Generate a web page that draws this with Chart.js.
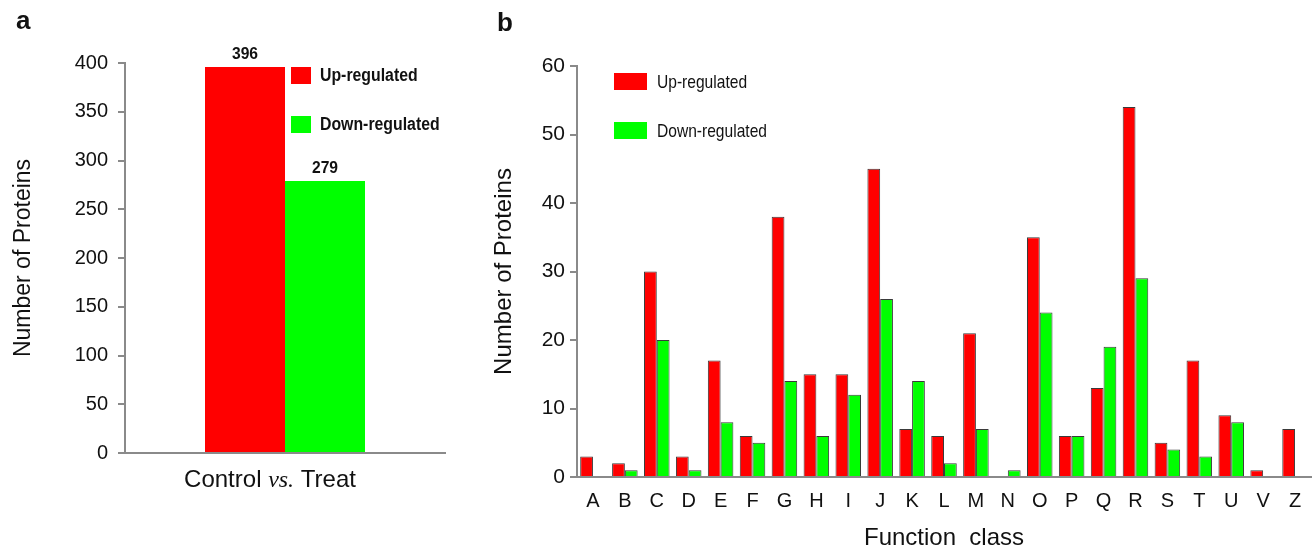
<!DOCTYPE html>
<html lang="en">
<head>
<meta charset="UTF-8">
<title>Differentially expressed proteins</title>
<script src="https://cdn.jsdelivr.net/npm/chart.js"></script>
<style>
  body { margin: 0; background: #fff; }
  #wrap { position: relative; width: 1314px; height: 550px; font-family: 'Liberation Sans', Arial, sans-serif; color: #111; }
  .box { position: absolute; top: 0; height: 550px; }
  #boxA { left: 0; width: 460px; }
  #boxB { left: 460px; width: 854px; }
  .panel { position: absolute; font-weight: bold; font-size: 26px; line-height: 1.15; }
</style>
</head>
<body>
<div id="wrap">
  <div class="box" id="boxA"><canvas id="chartA"></canvas></div>
  <div class="box" id="boxB"><canvas id="chartB"></canvas></div>
  <div class="panel" style="left:16px; top:6px;">a</div>
  <div class="panel" style="left:497px; top:8px;">b</div>
</div>
<script>
// panel a: totals
const comparison = ['Control vs. Treat'];
const upTotal = [396];
const downTotal = [279];

// panel b: function classes
const classes = ['A', 'B', 'C', 'D', 'E', 'F', 'G', 'H', 'I', 'J', 'K', 'L',
                 'M', 'N', 'O', 'P', 'Q', 'R', 'S', 'T', 'U', 'V', 'Z'];
const upByClass = [3, 2, 30, 3, 17, 6, 38, 15, 15, 45, 7, 6,
                   21, 0, 35, 6, 13, 54, 5, 17, 9, 1, 7];
const downByClass = [0, 1, 20, 1, 8, 5, 14, 6, 12, 26, 14, 2,
                     7, 1, 24, 6, 19, 29, 4, 3, 8, 0, 0];

const RED = '#ff0000';
const GREEN = '#00ff00';
const AXIS = '#8a8a8a';
const TEXT = '#111';

// text squeezed horizontally (the figure uses a narrow face)
function narrowText(ctx, text, x, y, sx) {
  ctx.save();
  ctx.translate(x, y);
  ctx.scale(sx, 1);
  ctx.fillText(text, 0, 0);
  ctx.restore();
}

// legend drawn inside the plot area
const boxLegend = {
  id: 'boxLegend',
  afterDraw(chart, args, opts) {
    const ctx = chart.ctx;
    ctx.save();
    chart.data.datasets.forEach((ds, i) => {
      const y = opts.y + i * opts.gap;
      ctx.fillStyle = ds.backgroundColor;
      ctx.fillRect(opts.x, y, opts.boxW, opts.boxH);
      ctx.fillStyle = TEXT;
      ctx.font = opts.font;
      ctx.textBaseline = 'middle';
      narrowText(ctx, ds.label, opts.x + opts.boxW + opts.textGap, y + opts.boxH / 2 + 1, opts.squeeze);
    });
    ctx.restore();
  }
};

// value above each bar + x label with italic "vs."
const panelAText = {
  id: 'panelAText',
  afterDatasetsDraw(chart, args, opts) {
    const ctx = chart.ctx;
    ctx.save();
    ctx.fillStyle = TEXT;
    ctx.font = opts.valueFont;
    ctx.textAlign = 'center';
    ctx.textBaseline = 'alphabetic';
    chart.data.datasets.forEach((ds, i) => {
      chart.getDatasetMeta(i).data.forEach((bar, j) => {
        narrowText(ctx, String(ds.data[j]), bar.x, bar.y - 8, opts.squeeze);
      });
    });

    // "Control vs. Treat"
    const parts = chart.data.labels[0].split('vs.');
    const plain = opts.labelFont;
    const ital = opts.italicFont;
    ctx.textAlign = 'left';
    ctx.font = plain;
    const w1 = ctx.measureText(parts[0]).width;
    const w3 = ctx.measureText(parts[1]).width;
    ctx.font = ital;
    const w2 = ctx.measureText('vs.').width;
    const xs = chart.scales.x;
    let x = (xs.left + xs.right) / 2 + opts.shift - (w1 + w2 + w3) / 2;
    const y = opts.labelY;
    ctx.font = plain; ctx.fillText(parts[0], x, y); x += w1;
    ctx.font = ital;  ctx.fillText('vs.', x, y); x += w2;
    ctx.font = plain; ctx.fillText(parts[1], x, y);
    ctx.restore();
  }
};

Chart.defaults.font.family = "'Liberation Sans', Arial, sans-serif";
Chart.defaults.color = TEXT;

new Chart(document.getElementById('chartA'), {
  type: 'bar',
  data: {
    labels: comparison,
    datasets: [
      { label: 'Up-regulated', data: upTotal, backgroundColor: RED },
      { label: 'Down-regulated', data: downTotal, backgroundColor: GREEN }
    ]
  },
  options: {
    responsive: true,
    maintainAspectRatio: false,
    animation: false,
    layout: { padding: { left: 10, top: 63, right: 15, bottom: 0 } },
    datasets: { bar: { categoryPercentage: 0.5, barPercentage: 1 } },
    plugins: {
      legend: { display: false },
      tooltip: { enabled: false },
      boxLegend: { x: 291, y: 67, gap: 49, boxW: 20, boxH: 17, textGap: 9, squeeze: 0.88,
                   font: "bold 18px 'Liberation Sans', Arial" },
      panelAText: { valueFont: "bold 17px 'Liberation Sans', Arial", squeeze: 0.92,
                    labelFont: "24px 'Liberation Sans', Arial",
                    italicFont: "italic 24px 'Liberation Serif', 'Times New Roman', serif",
                    labelY: 487, shift: -15 }
    },
    scales: {
      x: {
        grid: { display: false },
        border: { color: AXIS, width: 2 },
        ticks: { display: false },
        afterFit: s => { s.height = 97; }
      },
      y: {
        min: 0, max: 400,
        ticks: { stepSize: 50, font: { size: 20 }, padding: 10, color: TEXT },
        grid: { drawOnChartArea: false, tickLength: 7, color: AXIS, lineWidth: 2 },
        border: { color: AXIS, width: 2 },
        title: { display: true, text: 'Number of Proteins', font: { size: 23 }, padding: 0, color: TEXT },
        afterFit: s => { s.width = 115; }
      }
    }
  },
  plugins: [boxLegend, panelAText]
});

new Chart(document.getElementById('chartB'), {
  type: 'bar',
  data: {
    labels: classes,
    datasets: [
      { label: 'Up-regulated', data: upByClass, backgroundColor: RED, borderColor: '#3a3a3a', borderWidth: 1 },
      { label: 'Down-regulated', data: downByClass, backgroundColor: GREEN, borderColor: '#3a3a3a', borderWidth: 1 }
    ]
  },
  options: {
    responsive: true,
    maintainAspectRatio: false,
    animation: false,
    layout: { padding: { left: 30, top: 66, right: 3, bottom: 0 } },
    datasets: { bar: { categoryPercentage: 0.8, barPercentage: 1 } },
    plugins: {
      legend: { display: false },
      tooltip: { enabled: false },
      boxLegend: { x: 154, y: 73, gap: 49, boxW: 33, boxH: 17, textGap: 10, squeeze: 0.82,
                   font: "19px 'Liberation Sans', Arial" }
    },
    scales: {
      x: {
        grid: { display: false, drawTicks: false },
        border: { color: AXIS, width: 2 },
        ticks: { font: { size: 20 }, padding: 12, color: TEXT, autoSkip: false, maxRotation: 0 },
        title: { display: true, text: 'Function  class', font: { size: 24, lineHeight: 1 }, padding: 0, color: TEXT },
        afterFit: s => { s.height = 73; }
      },
      y: {
        min: 0, max: 60,
        ticks: { stepSize: 10, font: { size: 21 }, padding: 5, color: TEXT },
        grid: { drawOnChartArea: false, tickLength: 7, color: AXIS, lineWidth: 2 },
        border: { color: AXIS, width: 2 },
        title: { display: true, text: 'Number of Proteins', font: { size: 24 }, padding: 0, color: TEXT },
        afterFit: s => { s.width = 87; }
      }
    }
  },
  plugins: [boxLegend]
});
</script>
</body>
</html>
